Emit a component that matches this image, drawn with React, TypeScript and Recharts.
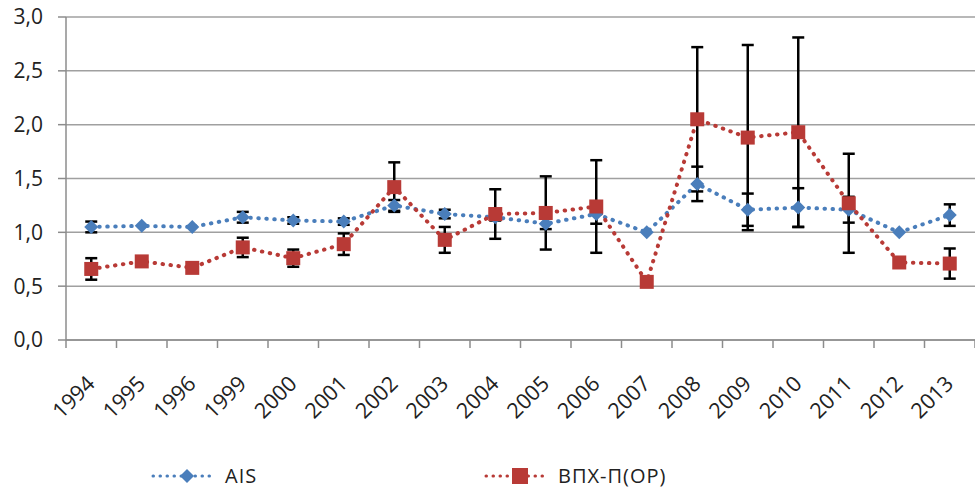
import { ComposedChart, Line, XAxis, YAxis, CartesianGrid, ErrorBar, Legend } from 'recharts'

const years = ['1994', '1995', '1996', '1999', '2000', '2001', '2002', '2003', '2004', '2005', '2006', '2007', '2008', '2009', '2010', '2011', '2012', '2013']
const ais = [1.05, 1.06, 1.05, 1.14, 1.11, 1.1, 1.25, 1.17, 1.14, 1.08, 1.17, 1.0, 1.45, 1.21, 1.23, 1.21, 1.0, 1.16]
const aisErr = [0.05, null, null, 0.05, 0.03, 0.03, 0.05, 0.04, 0.03, 0.05, 0.09, null, 0.16, 0.15, 0.18, 0.12, null, 0.1]
const vph = [0.66, 0.73, 0.67, 0.86, 0.76, 0.89, 1.42, 0.93, 1.17, 1.18, 1.24, 0.54, 2.05, 1.88, 1.93, 1.27, 0.72, 0.71]
const vphErr = [0.1, null, null, 0.09, 0.08, 0.1, 0.23, 0.12, 0.23, 0.34, 0.43, null, 0.67, 0.86, 0.88, 0.46, null, 0.14]
const yTicks = [0, 0.5, 1, 1.5, 2, 2.5, 3]

const data = years.map((year, i) => ({
  year,
  ais: ais[i],
  aisErr: aisErr[i],
  vph: vph[i],
  vphErr: vphErr[i],
}))

const BLUE = '#4a7ebb'
const RED = '#b83a36'
const AXIS = '#8c8c8c'
const FONT = '"Open Sans", sans-serif'

function Diamond(props: any) {
  const { cx, cy, index } = props
  if (cx == null || cy == null) return null
  return <path key={index} d={`M${cx},${cy - 7}L${cx + 7},${cy}L${cx},${cy + 7}L${cx - 7},${cy}Z`} fill={BLUE} />
}

function Square(props: any) {
  const { cx, cy, index } = props
  if (cx == null || cy == null) return null
  return <rect key={index} x={cx - 7} y={cy - 7} width={14} height={14} fill={RED} />
}

// label plus Excel-style tick marks on the category boundaries
function YearTick(props: any) {
  const { x, y, payload, index } = props
  const half = payload.offset ?? 0
  const last = index === years.length - 1
  return (
    <g>
      <line x1={x - half} y1={y} x2={x - half} y2={y + 8} stroke={AXIS} strokeWidth={1.5} />
      {last && <line x1={x + half} y1={y} x2={x + half} y2={y + 8} stroke={AXIS} strokeWidth={1.5} />}
      <text
        transform={`translate(${x + 5},${y + 45}) rotate(-45)`}
        textAnchor="end"
        fontSize={21.5}
        fontFamily={FONT}
        fill="#222"
      >
        {payload.value}
      </text>
    </g>
  )
}

function LegendIcon({ color, square }: { color: string; square?: boolean }) {
  return (
    <svg width={63} height={16} style={{ display: 'block' }}>
      <line x1={2} y1={8} x2={61} y2={8} stroke={color} strokeWidth={3} strokeDasharray="0.5 6.5" strokeLinecap="round" />
      {square ? <rect x={28} y={0} width={16} height={16} fill={color} /> : <path d="M36,1L43,8L36,15L29,8Z" fill={color} />}
    </svg>
  )
}

function renderLegend() {
  const item = { position: 'absolute' as const, top: 35, height: 22, lineHeight: '22px', display: 'flex', alignItems: 'center', gap: 11 }
  return (
    <div style={{ position: 'relative', width: 975, height: 58, fontFamily: FONT, fontSize: 20, letterSpacing: 1, color: '#222' }}>
      <div style={{ ...item, left: 151 }}>
        <LegendIcon color={BLUE} />
        <span>AIS</span>
      </div>
      <div style={{ ...item, left: 484 }}>
        <LegendIcon color={RED} square />
        <span>ВПХ-П(ОР)</span>
      </div>
    </div>
  )
}

export default function App() {
  return (
    <div style={{ position: 'absolute', left: 0, top: 0 }}>
      <ComposedChart width={975} height={488} data={data} margin={{ top: 17, right: 0, left: 0, bottom: 0 }}>
        <CartesianGrid vertical={false} stroke="#a0a0a0" strokeWidth={1.5} />
        <XAxis
          dataKey="year"
          scale="band"
          interval={0}
          height={90}
          axisLine={{ stroke: AXIS, strokeWidth: 1.5 }}
          tickLine={false}
          tickSize={0}
          tickMargin={0}
          tick={<YearTick />}
        />
        <YAxis
          width={66}
          domain={[0, 3]}
          ticks={yTicks}
          tickFormatter={(v: number) => v.toFixed(1).replace('.', ',')}
          tick={{ fontSize: 21, fontFamily: FONT, fill: '#222' }}
          tickSize={8}
          tickMargin={15}
          axisLine={{ stroke: AXIS, strokeWidth: 1.5 }}
          tickLine={{ stroke: AXIS, strokeWidth: 1.5 }}
        />
        <Legend verticalAlign="bottom" content={renderLegend} />
        <Line
          dataKey="ais"
          name="AIS"
          stroke={BLUE}
          strokeWidth={4}
          strokeDasharray="0.5 7.5"
          strokeLinecap="round"
          dot={Diamond}
          activeDot={false}
          isAnimationActive={false}
        >
          <ErrorBar dataKey="aisErr" direction="y" width={6} stroke="#000" strokeWidth={2.5} />
        </Line>
        <Line
          dataKey="vph"
          name="ВПХ-П(ОР)"
          stroke={RED}
          strokeWidth={4}
          strokeDasharray="0.5 7.5"
          strokeLinecap="round"
          dot={Square}
          activeDot={false}
          isAnimationActive={false}
        >
          <ErrorBar dataKey="vphErr" direction="y" width={6} stroke="#000" strokeWidth={2.5} />
        </Line>
      </ComposedChart>
    </div>
  )
}
